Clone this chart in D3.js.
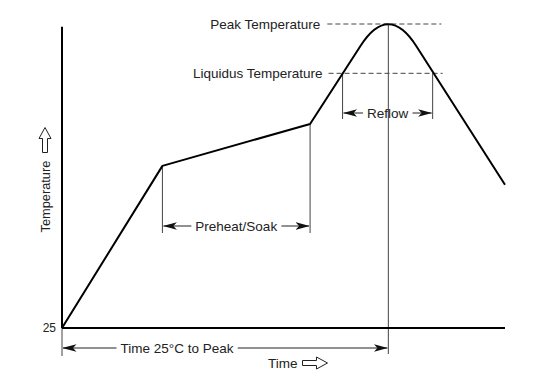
<!DOCTYPE html>
<html>
<head>
<meta charset="utf-8">
<script src="https://cdn.jsdelivr.net/npm/d3@7"></script>
<style>
  body { margin: 0; background: #fff; }
  text { font-family: "Liberation Sans", Arial, sans-serif; font-size: 13.5px; fill: #222; }
</style>
</head>
<body>
<div id="chart"></div>
<script>
// reflow profile, time in s, temperature in °C
// index 4 is the control point that rounds off the peak
const profileTime = [0, 68, 168, 202, 221, 240, 300];
const profileTemp = [25, 145, 176, 233.5, 266, 233.5, 131];

const startTemp = 25;
const peakTemp = 250;
const liquidusTemp = 213.5;
const axisTopTemp = 248;

const tPeak = 221;
const tSoakStart = 68, tSoakEnd = 168;
const tLiqUp = 190, tLiqDown = 251;
const tEnd = 300;

const width = 550, height = 385;

const x = d3.scaleLinear([0, tEnd], [62, 505]);
const y = d3.scaleLinear([startTemp, peakTemp], [328, 24]);

const svg = d3.select("#chart").append("svg")
    .attr("width", width)
    .attr("height", height)
    .attr("viewBox", [0, 0, width, height]);

const defs = svg.append("defs");
defs.append("marker")
    .attr("id", "head")
    .attr("viewBox", "0 -5 14 10")
    .attr("refX", 13.5)
    .attr("refY", 0)
    .attr("markerWidth", 14)
    .attr("markerHeight", 10)
    .attr("markerUnits", "userSpaceOnUse")
    .attr("orient", "auto-start-reverse")
    .append("path")
    .attr("d", "M0,-3.8L14,0L0,3.8L3.5,0Z")
    .attr("fill", "#111");

const guide = "#444";

// dashed reference levels
svg.append("line")
    .attr("x1", x(tPeak) - 61).attr("x2", x(tPeak) + 53)
    .attr("y1", y(peakTemp)).attr("y2", y(peakTemp))
    .attr("stroke", guide).attr("stroke-dasharray", "5,3");
svg.append("line")
    .attr("x1", x(tLiqUp) - 14).attr("x2", x(tLiqDown) + 10)
    .attr("y1", y(liquidusTemp)).attr("y2", y(liquidusTemp))
    .attr("stroke", guide).attr("stroke-dasharray", "5,3");

svg.append("text").attr("x", x(tPeak) - 68).attr("y", y(peakTemp) + 5)
    .attr("text-anchor", "end").text("Peak Temperature");
svg.append("text").attr("x", x(tLiqUp) - 20).attr("y", y(liquidusTemp) + 5)
    .attr("text-anchor", "end").text("Liquidus Temperature");

// vertical guides
function vline(t, temp0, yBottom) {
  svg.append("line")
      .attr("x1", x(t)).attr("x2", x(t))
      .attr("y1", y(temp0)).attr("y2", yBottom)
      .attr("stroke", guide).attr("stroke-width", 1);
}
vline(tPeak, peakTemp, 354);
vline(tLiqUp, liquidusTemp, 119);
vline(tLiqDown, liquidusTemp, 119);
vline(tSoakStart, profileTemp[1], 233);
vline(tSoakEnd, profileTemp[2], 233);
vline(0, startTemp, 356);

// double headed span with label in the middle
function span(t0, t1, yy, label, cx) {
  const g = svg.append("g");
  const txt = g.append("text")
      .attr("x", cx === undefined ? (x(t0) + x(t1)) / 2 : cx)
      .attr("y", yy + 5)
      .attr("text-anchor", "middle")
      .text(label);
  const bb = txt.node().getBBox();
  g.append("line")
      .attr("x1", bb.x - 4).attr("x2", x(t0) + 1)
      .attr("y1", yy).attr("y2", yy)
      .attr("stroke", "#222").attr("marker-end", "url(#head)");
  g.append("line")
      .attr("x1", bb.x + bb.width + 4).attr("x2", x(t1) - 1)
      .attr("y1", yy).attr("y2", yy)
      .attr("stroke", "#222").attr("marker-end", "url(#head)");
}
span(tLiqUp, tLiqDown, 113, "Reflow");
span(tSoakStart, tSoakEnd, 226, "Preheat/Soak");
span(0, tPeak, 348, "Time 25°C to Peak", 177);

// axes
svg.append("line")
    .attr("x1", x(0)).attr("x2", x(0))
    .attr("y1", y(startTemp)).attr("y2", y(axisTopTemp))
    .attr("stroke", "#000").attr("stroke-width", 2);
svg.append("line")
    .attr("x1", x(0)).attr("x2", x(tEnd))
    .attr("y1", y(startTemp)).attr("y2", y(startTemp))
    .attr("stroke", "#000").attr("stroke-width", 2);

svg.append("g")
    .attr("transform", `translate(${x(0)},0)`)
    .call(d3.axisLeft(y).tickValues([startTemp]).tickSize(0).tickPadding(6))
    .call(g => g.select(".domain").remove())
    .call(g => g.selectAll("text")
        .style("font-family", "Liberation Sans, Arial, sans-serif")
        .style("font-size", "12px").attr("fill", "#222"));

// profile curve
const pts = profileTime.map((t, i) => [x(t), y(profileTemp[i])]);
const p = d3.path();
p.moveTo(...pts[0]);
p.lineTo(...pts[1]);
p.lineTo(...pts[2]);
p.lineTo(...pts[3]);
p.quadraticCurveTo(...pts[4], ...pts[5]);
p.lineTo(...pts[6]);
svg.append("path")
    .attr("d", p.toString())
    .attr("fill", "none")
    .attr("stroke", "#000")
    .attr("stroke-width", 2)
    .attr("stroke-linejoin", "round");

// hollow block arrow, drawn pointing right then rotated
function blockArrow(cx, cy, angle) {
  svg.append("path")
      .attr("d", "M-12.5,-2.5H1.5V-6L12.5,0L1.5,6V2.5H-12.5Z")
      .attr("transform", `translate(${cx},${cy}) rotate(${angle})`)
      .attr("fill", "#fff")
      .attr("stroke", "#222")
      .attr("stroke-width", 1);
}

svg.append("text").attr("x", 268).attr("y", 368).text("Time");
blockArrow(315, 363, 0);

svg.append("text")
    .attr("transform", "translate(50,232.5) rotate(-90)")
    .style("font-size", "12.8px")
    .text("Temperature");
blockArrow(45, 140, -90);
</script>
</body>
</html>
